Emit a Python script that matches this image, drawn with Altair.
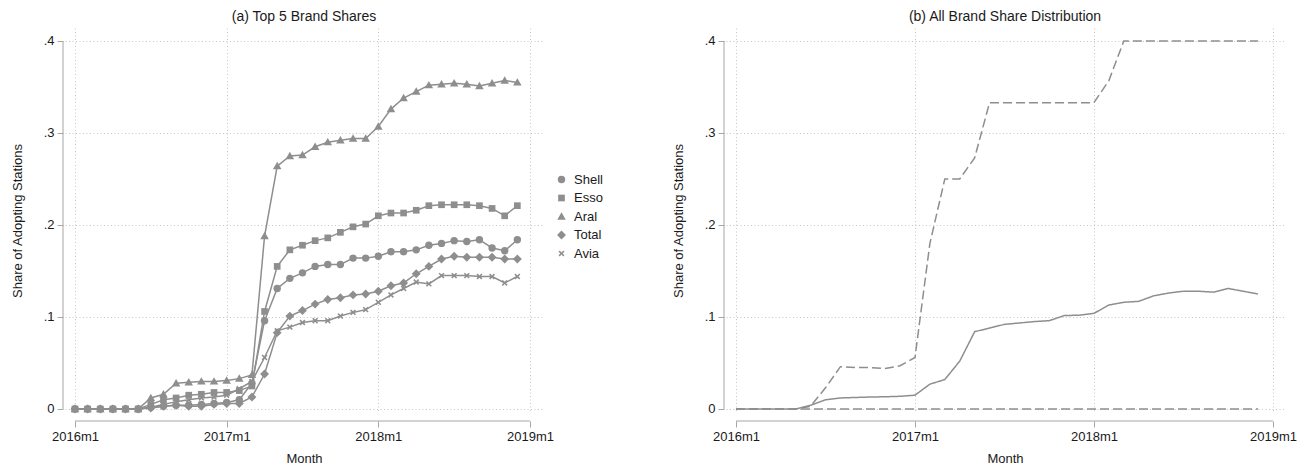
import altair as alt
import pandas as pd

# ---------------- data ----------------
months = list(range(36))  # 0 = 2016m1 ... 35 = 2018m12
brands = ["Shell", "Esso", "Aral", "Total", "Avia"]

shell = [0, 0, 0, 0, 0, 0, 0.002, 0.003, 0.004, 0.004, 0.005, 0.006, 0.007, 0.010, 0.028,
         0.096, 0.131, 0.142, 0.148, 0.155, 0.157, 0.157, 0.164, 0.164, 0.166, 0.171, 0.171,
         0.173, 0.178, 0.180, 0.183, 0.182, 0.184, 0.175, 0.172, 0.184]
esso = [0, 0, 0, 0, 0, 0, 0.005, 0.010, 0.012, 0.015, 0.016, 0.018, 0.018, 0.020, 0.025,
        0.106, 0.155, 0.173, 0.178, 0.183, 0.186, 0.192, 0.198, 0.201, 0.210, 0.213, 0.213,
        0.216, 0.221, 0.222, 0.222, 0.222, 0.221, 0.218, 0.210, 0.221]
aral = [0, 0, 0, 0, 0, 0, 0.012, 0.016, 0.028, 0.029, 0.030, 0.030, 0.031, 0.033, 0.037,
        0.188, 0.264, 0.275, 0.276, 0.285, 0.290, 0.292, 0.294, 0.294, 0.307, 0.326, 0.338,
        0.345, 0.352, 0.353, 0.354, 0.353, 0.351, 0.354, 0.357, 0.355]
total = [0, 0, 0, 0, 0, 0, 0.001, 0.003, 0.004, 0.003, 0.003, 0.005, 0.006, 0.006, 0.013,
         0.038, 0.083, 0.101, 0.107, 0.114, 0.119, 0.121, 0.124, 0.125, 0.128, 0.134, 0.137,
         0.147, 0.155, 0.163, 0.166, 0.165, 0.165, 0.165, 0.163, 0.163]
avia = [0, 0, 0, 0, 0, 0, 0.002, 0.005, 0.008, 0.010, 0.012, 0.013, 0.015, 0.022, 0.030,
        0.056, 0.085, 0.089, 0.094, 0.096, 0.096, 0.101, 0.105, 0.108, 0.116, 0.124, 0.131,
        0.138, 0.136, 0.145, 0.145, 0.145, 0.144, 0.144, 0.137, 0.144]

mean_share = [0, 0, 0, 0, 0, 0.004, 0.010, 0.012, 0.0125, 0.013, 0.0133, 0.0138, 0.015, 0.027,
              0.032, 0.052, 0.084, 0.088, 0.092, 0.0935, 0.095, 0.096, 0.1015, 0.102, 0.104,
              0.113, 0.116, 0.117, 0.123, 0.126, 0.128, 0.128, 0.127, 0.131, 0.128, 0.125]
max_share = [0, 0, 0, 0, 0, 0.003, 0.023, 0.046, 0.045, 0.045, 0.044, 0.047, 0.056, 0.180,
             0.250, 0.250, 0.273, 0.333, 0.333, 0.333, 0.333, 0.333, 0.333, 0.333, 0.333,
             0.357, 0.400, 0.400, 0.400, 0.400, 0.400, 0.400, 0.400, 0.400, 0.400, 0.400]
min_share = [0, 0, 0, 0, 0, 0, 0, 0, 0, 0, 0, 0, 0, 0, 0, 0, 0, 0,
             0, 0, 0, 0, 0, 0, 0, 0, 0, 0, 0, 0, 0, 0, 0, 0, 0, 0]

x_ticks = [0, 12, 24, 36]
x_tick_labels = ["2016m1", "2017m1", "2018m1", "2019m1"]
y_ticks = [0, 0.1, 0.2, 0.3, 0.4]
y_tick_labels = ["0", ".1", ".2", ".3", ".4"]

# ---------------- tables ----------------
series = {"Shell": shell, "Esso": esso, "Aral": aral, "Total": total, "Avia": avia}
left_rows = []
for b in brands:
    for m, v in zip(months, series[b]):
        left_rows.append({"month": m, "share": v, "brand": b})
left_df = pd.DataFrame(left_rows)

dist = {"mean": mean_share, "max": max_share, "min": min_share}
right_rows = []
for k, vals in dist.items():
    for m, v in zip(months, vals):
        right_rows.append({"month": m, "share": v, "stat": k})
right_df = pd.DataFrame(right_rows)

# ---------------- style ----------------
FONT = "Liberation Sans"
GRAY = "#8e8e8e"
AXIS_GRAY = "#a6a6a6"
TXT = "#1a1a1a"
H = 385


def expr_map(vals, labels):
    e = "''"
    for v, l in zip(reversed(vals), reversed(labels)):
        e = f"abs(datum.value - {v}) < 1e-6 ? '{l}' : ({e})"
    return e


def x_axis():
    return alt.Axis(values=x_ticks, labelExpr=expr_map(x_ticks, x_tick_labels), title="Month",
                    offset=8, domain=False, tickSize=6, tickColor=AXIS_GRAY, tickWidth=1,
                    labelFont=FONT, labelFontSize=13, labelColor=TXT, labelPadding=3,
                    titleFont=FONT, titleFontSize=13, titleFontWeight="normal", titleColor=TXT,
                    titlePadding=9, grid=True, gridColor="#c4c4c4", gridDash=[1, 2.5],
                    labelFlush=False)


def y_axis():
    return alt.Axis(values=y_ticks, labelExpr=expr_map(y_ticks, y_tick_labels),
                    title="Share of Adopting Stations", offset=2, domain=False, tickSize=6,
                    tickColor=AXIS_GRAY, tickWidth=1, labelFont=FONT, labelFontSize=13,
                    labelColor=TXT, labelPadding=3, titleFont=FONT, titleFontSize=13,
                    titleFontWeight="normal", titleColor=TXT, titlePadding=19, grid=True,
                    gridColor="#c4c4c4", gridDash=[1, 2.5], labelFlush=False)


ydom = [-0.00435, 0.41413]
dummy = pd.DataFrame({"a": [0]})

# ---------------- left panel ----------------
LW = 478
xl = alt.X("month:Q", scale=alt.Scale(domain=[-0.79, 37.03], nice=False, zero=False), axis=x_axis())
yl = alt.Y("share:Q", scale=alt.Scale(domain=ydom, nice=False, zero=False), axis=y_axis())

shape_paths = [
    "circle",
    "M-0.9,-0.9H0.9V0.9H-0.9Z",
    "M0,-1.15L1.15,0.85L-1.15,0.85Z",
    "M0,-1.2L1.2,0L0,1.2L-1.2,0Z",
    "M-0.8,-0.5L-0.5,-0.8L0,-0.3L0.5,-0.8L0.8,-0.5L0.3,0L0.8,0.5L0.5,0.8L0,0.3L-0.5,0.8L-0.8,0.5L-0.3,0Z",
]

left_lines = alt.Chart(left_df).mark_line(color=GRAY, strokeWidth=1.5).encode(
    x=xl, y=yl, detail="brand:N")
left_points = alt.Chart(left_df).mark_point(filled=True, color=GRAY, opacity=1, size=55).encode(
    x=xl, y=yl,
    shape=alt.Shape("brand:N", scale=alt.Scale(domain=brands, range=shape_paths),
                    legend=alt.Legend(title=None, orient="none", legendX=490, legendY=145,
                                      labelFont=FONT, labelFontSize=13, labelColor=TXT,
                                      symbolFillColor=GRAY, symbolStrokeWidth=0,
                                      symbolSize=55, rowPadding=4.5, labelOffset=6)))
lx_rule = alt.Chart(dummy).mark_rule(color=AXIS_GRAY, strokeWidth=1).encode(
    x=alt.datum(x_ticks[0]), x2=alt.datum(x_ticks[-1]), y=alt.value(H + 8))
ly_rule = alt.Chart(dummy).mark_rule(color=AXIS_GRAY, strokeWidth=1).encode(
    y=alt.datum(y_ticks[0]), y2=alt.datum(y_ticks[-1]), x=alt.value(-2))

left = alt.layer(left_lines, left_points, lx_rule, ly_rule).properties(
    width=LW, height=H,
    title=alt.TitleParams("(a) Top 5 Brand Shares", font=FONT, fontSize=14, fontWeight="normal",
                          color=TXT, anchor="middle", frame="group", offset=4))

# ---------------- right panel ----------------
RW = 558
xr = alt.X("month:Q", scale=alt.Scale(domain=[-0.67, 36.74], nice=False, zero=False), axis=x_axis())
yr = alt.Y("share:Q", scale=alt.Scale(domain=ydom, nice=False, zero=False), axis=y_axis())

right_lines = alt.Chart(right_df).mark_line(color=GRAY, strokeWidth=1.5).encode(
    x=xr, y=yr, detail="stat:N",
    strokeDash=alt.StrokeDash("stat:N", scale=alt.Scale(domain=["mean", "max", "min"],
                                                       range=[[1, 0], [9, 4], [9, 4]]),
                              legend=None))
rx_rule = alt.Chart(dummy).mark_rule(color=AXIS_GRAY, strokeWidth=1).encode(
    x=alt.datum(x_ticks[0]), x2=alt.datum(x_ticks[-1]), y=alt.value(H + 8))
ry_rule = alt.Chart(dummy).mark_rule(color=AXIS_GRAY, strokeWidth=1).encode(
    y=alt.datum(y_ticks[0]), y2=alt.datum(y_ticks[-1]), x=alt.value(-2))

right = alt.layer(right_lines, rx_rule, ry_rule).properties(
    width=RW, height=H,
    title=alt.TitleParams("(b) All Brand Share Distribution", font=FONT, fontSize=14,
                          fontWeight="normal", color=TXT, anchor="middle", frame="group",
                          offset=4))

chart = alt.hconcat(left, right, spacing=69).resolve_scale(
    x="independent", y="independent", shape="independent", strokeDash="independent"
).properties(
    padding={"left": 3, "top": 2, "right": 0, "bottom": 0},
    background="white",
).configure_view(stroke=None)

chart.save("out.html", embed_options={"renderer": "svg", "actions": False})
